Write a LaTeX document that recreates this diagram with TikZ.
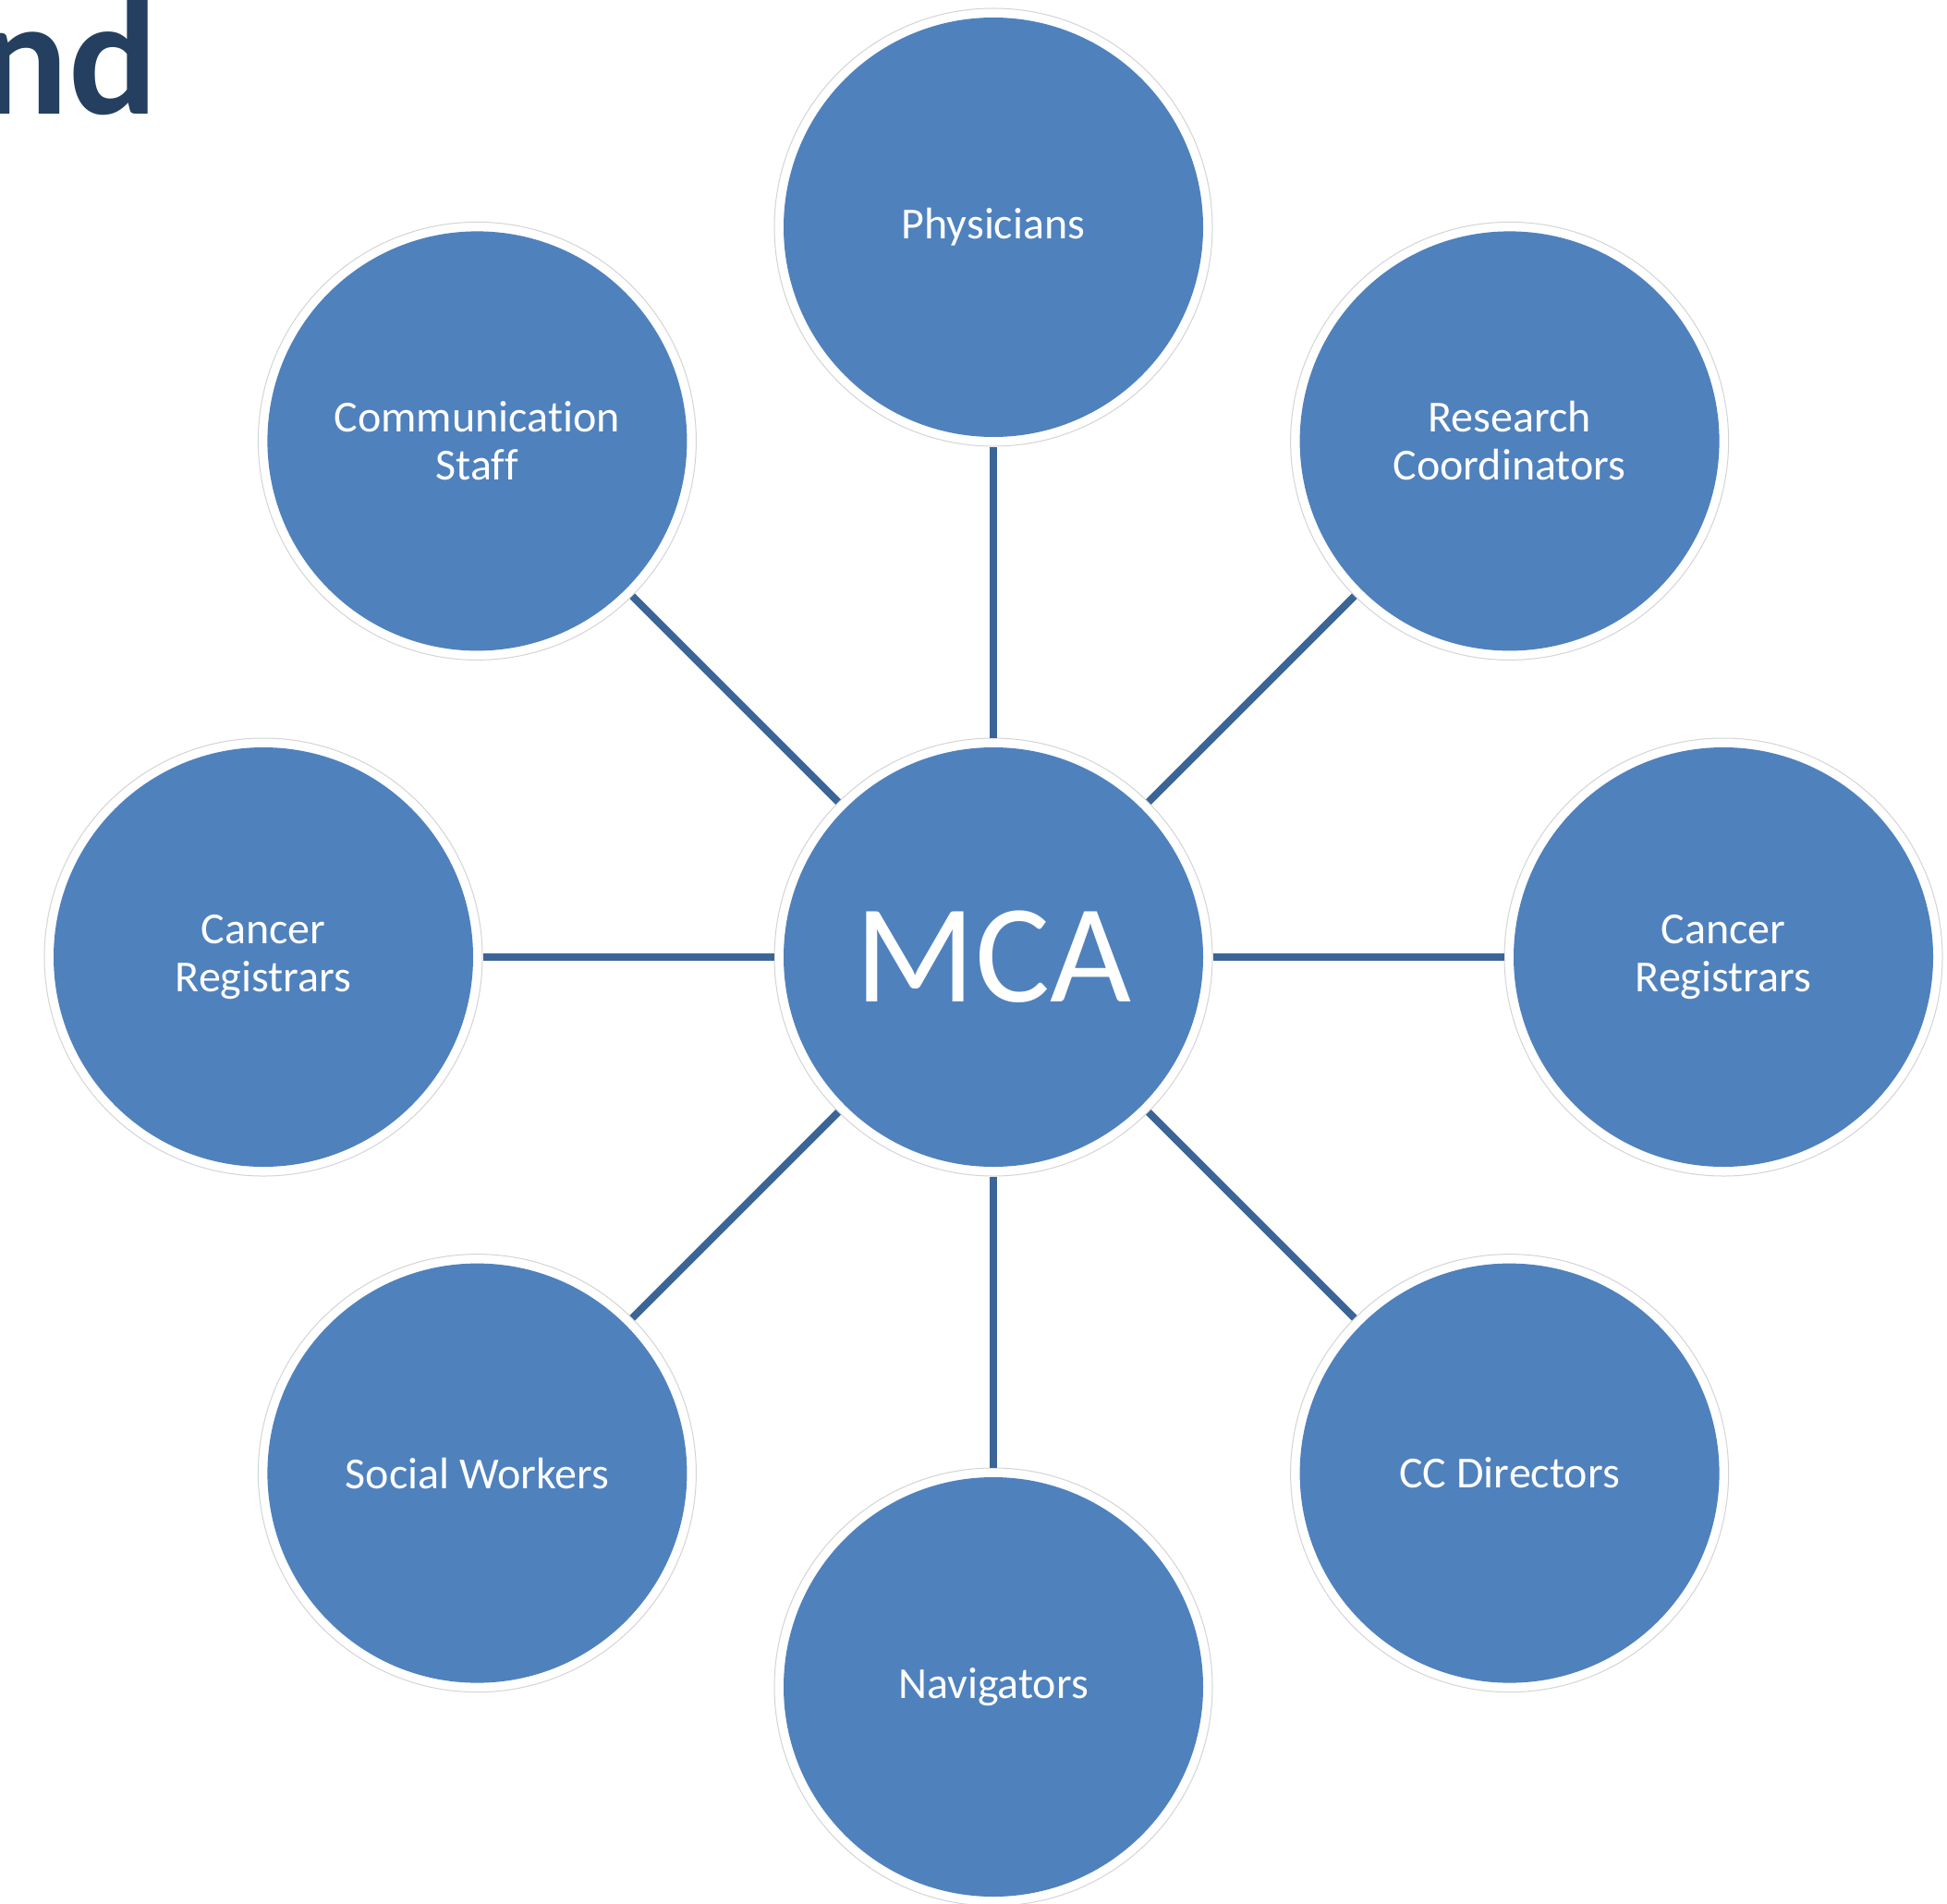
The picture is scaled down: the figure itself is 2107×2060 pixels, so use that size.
\documentclass[tikz,border=0pt]{standalone}
\usepackage{fontspec}
\setmainfont{Carlito}[Ligatures={CommonOff,ContextualOff}]
\definecolor{cblue}{HTML}{4F81BD}
\definecolor{lblue}{HTML}{3B6597}
\definecolor{tblue}{HTML}{243F60}
\definecolor{ringgray}{HTML}{D4D4D4}
\tikzset{
  bubble/.style={circle, minimum size=237pt, inner sep=0pt, draw=ringgray,
    line width=0.5pt, fill=white, text=white, align=center,
    font=\fontsize{24}{26}\selectfont,
    path picture={\fill[cblue] (path picture bounding box.center) circle (113.5pt);}},
  conn/.style={draw=lblue, line width=4pt},
}
\begin{document}
\begin{tikzpicture}[x=0.5pt,y=-0.5pt]
\useasboundingbox (0,0) rectangle (2107,2060);
\clip (0,0) rectangle (2107,2060);
\fill[white] (0,0) rectangle (2107,2060);
\node[anchor=base east, text=tblue, font=\fontsize{90}{90}\selectfont\bfseries, inner sep=0pt] (title) at (171,124) {nd};

\node[bubble] (phys) at (1075,246) {Physicians};
\node[bubble] (rc) at (1633.6,477.4) {Research\\Coordinators};
\node[bubble] (crR) at (1865,1036) {Cancer\\Registrars};
\node[bubble] (ccd) at (1633.6,1594.6) {CC Directors};
\node[bubble] (nav) at (1075,1826) {Navigators};
\node[bubble] (sw) at (516.4,1594.6) {Social Workers};
\node[bubble] (crL) at (285,1036) {Cancer\\Registrars};
\node[bubble] (cs) at (516.4,477.4) {Communica\kern0ptt\kern0ption\\Staf\kern0ptf};
\node[bubble, font=\fontsize{76}{80}\selectfont] (mca) at (1075,1036) {MCA};

\foreach \n in {phys,rc,crR,ccd,nav,sw,crL,cs}
  \draw[conn] (mca) -- (\n);
\end{tikzpicture}
\end{document}
